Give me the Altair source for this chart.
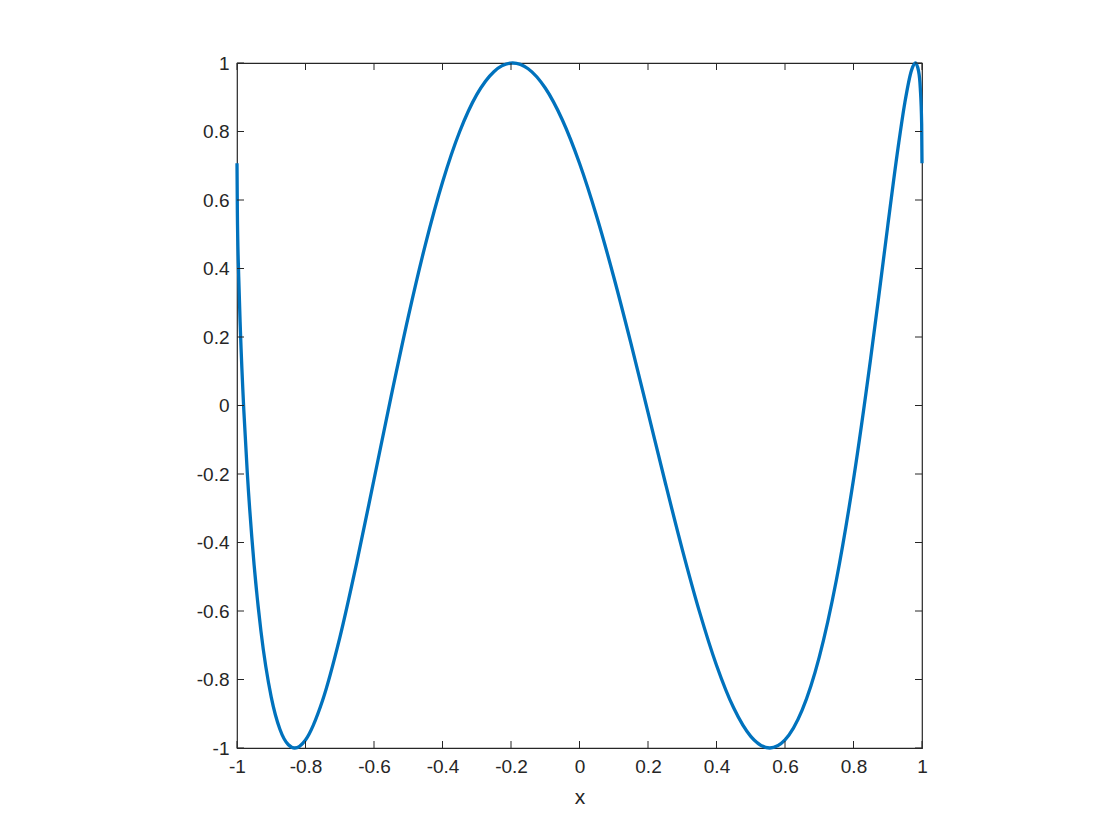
import altair as alt
import pandas as pd

x_vals = [-1.0, -0.999, -0.995, -0.99, -0.98, -0.97, -0.95, -0.93, -0.9, -0.875,
          -0.85, -0.8315, -0.8, -0.75, -0.7, -0.65, -0.6, -0.55, -0.5, -0.45,
          -0.4, -0.35, -0.3, -0.25, -0.1951, -0.15, -0.1, -0.05, 0.0, 0.05,
          0.1, 0.15, 0.2, 0.25, 0.3, 0.35, 0.4, 0.45, 0.5, 0.5556,
          0.6, 0.65, 0.7, 0.75, 0.8, 0.85, 0.875, 0.9, 0.93, 0.95,
          0.97, 0.9808, 0.99, 0.995, 0.999, 1.0]
y_vals = [0.7071, 0.5700, 0.3758, 0.2175, -0.0159, -0.1956, -0.4661, -0.6595, -0.8514, -0.9445,
          -0.9906, -1.0, -0.9764, -0.8604, -0.6783, -0.4566, -0.2161, 0.0267, 0.2588, 0.4699,
          0.6519, 0.7992, 0.9076, 0.9747, 1.0, 0.9833, 0.9269, 0.8335, 0.7071, 0.5525,
          0.3753, 0.1821, -0.0200, -0.2234, -0.4199, -0.6011, -0.7583, -0.8827, -0.9659, -1.0,
          -0.9764, -0.8897, -0.7348, -0.5096, -0.2161, 0.1365, 0.3285, 0.5245, 0.7517, 0.8848,
          0.9807, 1.0, 0.9761, 0.9267, 0.8217, 0.7071]

tick_vals = [-1, -0.8, -0.6, -0.4, -0.2, 0, 0.2, 0.4, 0.6, 0.8, 1]

W = 685
H = 685
TL = 7
AX = "#262626"
FONT = "Liberation Sans"
LABEL_EXPR = "replace(format(datum.value, '.1~f'), '\u2212', '-')"

df = pd.DataFrame({"x": x_vals, "y": y_vals})
ticks = pd.DataFrame({"t": tick_vals})

xs = alt.Scale(domain=[-1, 1], nice=False, zero=False)
ys = alt.Scale(domain=[-1, 1], nice=False, zero=False)

ax_x = alt.Axis(values=tick_vals, domain=False, ticks=False, grid=False,
                labelExpr=LABEL_EXPR,
                labelFontSize=19, labelColor=AX, labelFont=FONT,
                labelPadding=9, titleFontSize=21, titleColor=AX,
                titleFont=FONT, titleFontWeight="normal", titlePadding=10,
                labelFlush=False)
ax_y = alt.Axis(values=tick_vals, domain=False, ticks=False, grid=False,
                labelExpr=LABEL_EXPR,
                labelFontSize=19, labelColor=AX, labelFont=FONT,
                labelPadding=8, labelFlush=False)

line = alt.Chart(df).mark_line(
    color="#0072BD", strokeWidth=3.3, interpolate="monotone"
).encode(
    x=alt.X("x:Q", scale=xs, title="x", axis=ax_x),
    y=alt.Y("y:Q", scale=ys, title=None, axis=ax_y),
)

xt_bottom = alt.Chart(ticks).mark_rule(color=AX, strokeWidth=1).encode(
    x=alt.X("t:Q", scale=xs, title="x", axis=ax_x), y=alt.value(H), y2=alt.value(H - TL))
xt_top = alt.Chart(ticks).mark_rule(color=AX, strokeWidth=1).encode(
    x=alt.X("t:Q", scale=xs, title="x", axis=ax_x), y=alt.value(0), y2=alt.value(TL))
yt_left = alt.Chart(ticks).mark_rule(color=AX, strokeWidth=1).encode(
    y=alt.Y("t:Q", scale=ys, title=None, axis=ax_y), x=alt.value(0), x2=alt.value(TL))
yt_right = alt.Chart(ticks).mark_rule(color=AX, strokeWidth=1).encode(
    y=alt.Y("t:Q", scale=ys, title=None, axis=ax_y), x=alt.value(W), x2=alt.value(W - TL))

chart = alt.layer(line, xt_bottom, xt_top, yt_left, yt_right).properties(
    width=W, height=H,
    autosize=alt.AutoSizeParams(type="none"),
    padding={"left": 229, "top": 55, "right": 10, "bottom": 60},
    background="white",
).configure_view(stroke=AX, strokeWidth=1.2)

chart.save("out.html", embed_options={"renderer": "svg", "actions": False})
